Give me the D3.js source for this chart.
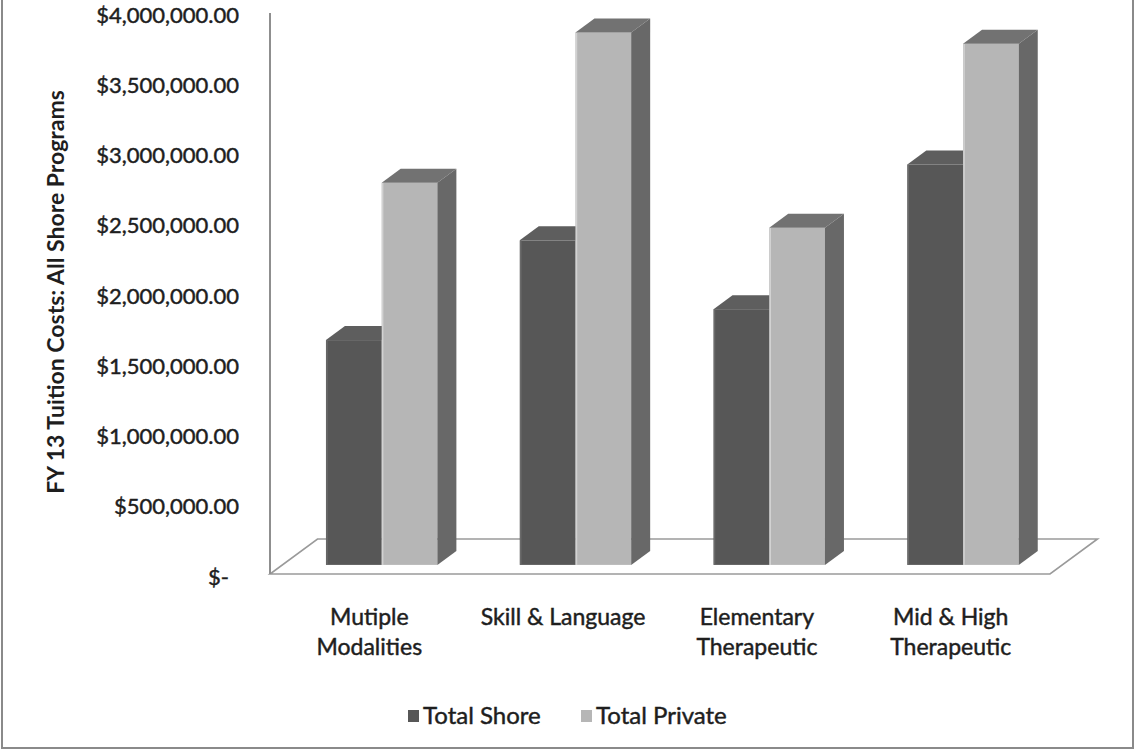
<!DOCTYPE html>
<html>
<head>
<meta charset="utf-8">
<script src="https://cdn.jsdelivr.net/npm/d3@7"></script>
<style>
  html, body { margin: 0; padding: 0; background: #fff; }
  svg { display: block; }
  text { font-family: Lato, "Open Sans", sans-serif; fill: #1e1e1e; }
  .heavy { stroke: #1e1e1e; stroke-width: 0.45px; }
</style>
</head>
<body>
<svg id="chart" width="1135" height="755"></svg>
<script>
// Program categories (two-line labels) and the two cost series
const categories = ["Mutiple Modalities", "Skill & Language", "Elementary Therapeutic", "Mid & High Therapeutic"];
const categoryLines = [["Mutiple", "Modalities"], ["Skill & Language"], ["Elementary", "Therapeutic"], ["Mid & High", "Therapeutic"]];
const seriesNames = ["Total Shore", "Total Private"];
const totalShore = [1600000, 2310000, 1820000, 2850000];
const totalPrivate = [2720000, 3790000, 2400000, 3710000];
const yTicks = [0, 500000, 1000000, 1500000, 2000000, 2500000, 3000000, 3500000, 4000000];
const yTitle = "FY 13 Tuition Costs: All Shore Programs";

const svg = d3.select("#chart");

// Outer frame
svg.append("rect")
  .attr("x", 2).attr("y", -4).attr("width", 1131).attr("height", 752)
  .attr("fill", "#fff").attr("stroke", "#8a8a8a").attr("stroke-width", 2);

// Oblique projection: front plane of the floor plus a depth vector
const floorLeft = 270, floorRight = 1050;
const depth = { dx: 47.5, dy: -35 };
const barFront = 0.26;   // depth fraction of the bar front faces
const barDepth = 0.4;    // depth fraction spanned by each bar

const x = d3.scaleBand().domain(categories).range([floorLeft, floorRight])
  .paddingInner(0.425).paddingOuter(0.225);
const sub = d3.scaleBand().domain(seriesNames).range([0, x.bandwidth()]);
const y = d3.scaleLinear().domain([0, 4000000]).range([574, 12]);

const colors = {
  "Total Shore":   { front: "#575757", top: "#5e5e5e", side: "#4a4a4a", edge: "#6a6a6a" },
  "Total Private": { front: "#b6b6b6", top: "#727272", side: "#686868", edge: "#d2d2d2" }
};

// Floor
const y0 = y(0);
svg.append("polygon")
  .attr("points", [
    [floorLeft, y0], [floorRight, y0],
    [floorRight + depth.dx, y0 + depth.dy], [floorLeft + depth.dx, y0 + depth.dy]
  ].map(p => p.join(",")).join(" "))
  .attr("fill", "#fff").attr("stroke", "#9a9a9a").attr("stroke-width", 1.6);

// Value axis line
svg.append("line")
  .attr("x1", floorLeft).attr("x2", floorLeft)
  .attr("y1", y(4000000) + 1).attr("y2", y0)
  .attr("stroke", "#8f8f8f").attr("stroke-width", 2);

// Value axis labels
const fmt = d3.format("$,.2f");
const yAxis = d3.axisLeft(y).tickValues(yTicks).tickSize(0).tickPadding(0)
  .tickFormat(d => d === 0 ? "$-" : fmt(d));
const gy = svg.append("g").attr("transform", "translate(239,3)").call(yAxis);
gy.select(".domain").remove();
gy.selectAll("text")
  .attr("class", "heavy")
  .style("font-family", "Lato, sans-serif").style("font-size", "22px")
  .attr("fill", "#1e1e1e")
  .attr("dx", d => d === 0 ? -10 : 0);

// Axis title
svg.append("text")
  .attr("transform", "translate(55,292) rotate(-90)")
  .attr("text-anchor", "middle").attr("dominant-baseline", "central")
  .style("font-size", "23px").style("font-weight", "bold")
  .text(yTitle);

// Bars, drawn per category so the private bar covers the shore side face
const fx = barFront * depth.dx, fy = barFront * depth.dy;
const dx = barDepth * depth.dx, dy = barDepth * depth.dy;
const rows = categories.map((c, i) => ({ cat: c, vals: [
  { s: "Total Shore", v: totalShore[i] },
  { s: "Total Private", v: totalPrivate[i] }
]}));

const groups = svg.append("g").selectAll("g").data(rows).join("g");
groups.each(function(row) {
  const g = d3.select(this);
  row.vals.forEach(d => {
    const x0 = x(row.cat) + sub(d.s) + fx;
    const x1 = x0 + sub.bandwidth();
    const yt = y(d.v) + fy;
    const yb = y(0) + fy;
    const c = colors[d.s];
    g.append("rect").attr("x", x0).attr("y", yt)
      .attr("width", x1 - x0).attr("height", yb - yt).attr("fill", c.front);
    g.append("line").attr("x1", x0 + 1).attr("x2", x0 + 1).attr("y1", yt).attr("y2", yb)
      .attr("stroke", c.edge).attr("stroke-width", 1.5);
    g.append("polygon")
      .attr("points", [[x0, yt], [x0 + dx, yt + dy], [x1 + dx, yt + dy], [x1, yt]]
        .map(p => p.join(",")).join(" "))
      .attr("fill", c.top);
    g.append("polygon")
      .attr("points", [[x1, yt], [x1 + dx, yt + dy], [x1 + dx, yb + dy], [x1, yb]]
        .map(p => p.join(",")).join(" "))
      .attr("fill", c.side);
  });
});

// Category labels on the front plane
const catLabels = svg.append("g").selectAll("text").data(categories).join("text")
  .attr("class", "heavy")
  .attr("x", d => x(d) + x.bandwidth() / 2)
  .attr("y", 617)
  .attr("text-anchor", "middle")
  .style("font-size", "23px");
catLabels.each(function(d, i) {
  d3.select(this).selectAll("tspan").data(categoryLines[i]).join("tspan")
    .attr("x", x(d) + x.bandwidth() / 2)
    .attr("dy", (t, j) => j === 0 ? "0.35em" : "30px")
    .text(t => t);
});

// Legend
const legend = svg.append("g");
const legendItems = [
  { name: seriesNames[0], x: 408 },
  { name: seriesNames[1], x: 581 }
];
legendItems.forEach(it => {
  legend.append("rect").attr("x", it.x).attr("y", 710).attr("width", 11).attr("height", 12)
    .attr("fill", colors[it.name].front);
  legend.append("text").attr("class", "heavy")
    .attr("x", it.x + 15).attr("y", 716).attr("dy", "0.35em")
    .style("font-size", "24px").text(it.name);
});
</script>
</body>
</html>
